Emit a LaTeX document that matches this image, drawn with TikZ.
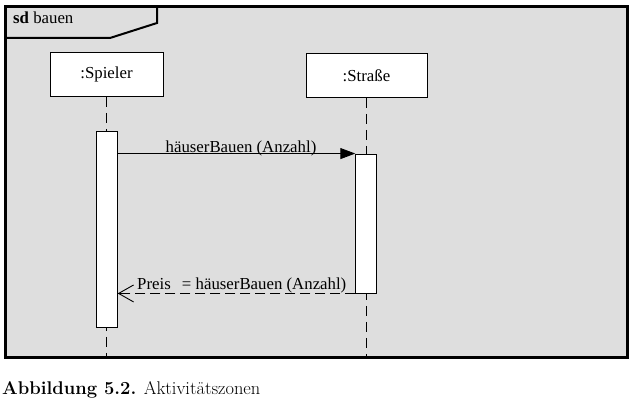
\documentclass[tikz,border=0pt]{standalone}
\usepackage{fontspec}
\setmainfont{Liberation Serif}
\newfontfamily\lmfont{Latin Modern Roman}
\usetikzlibrary{arrows.meta}
\definecolor{framebg}{RGB}{222,222,222}
\tikzset{
  objbox/.style={draw, line width=0.9pt, fill=white, minimum width=113pt, minimum height=44pt, inner sep=0pt, font=\fontsize{16.8}{18}\selectfont},
  actbox/.style={draw, line width=0.9pt, fill=white, minimum width=20.5pt, inner sep=0pt},
  lifeline/.style={line width=0.9pt, dash pattern=on 10pt off 6pt},
  callmsg/.style={line width=0.9pt, -{Triangle[length=15pt,width=11pt]}},
  retmsg/.style={line width=0.9pt, dash pattern=on 10pt off 5pt, -{Straight Barb[length=15pt,width=17pt,line width=0.9pt]}},
  lbl/.style={font=\fontsize{16.8}{18}\selectfont, inner sep=0pt},
}
\begin{document}
\begin{tikzpicture}[x=1pt,y=-1pt]
\useasboundingbox (0,0) rectangle (635,404);
% frame
\draw[line width=3pt, fill=framebg] (5.5,7) rectangle (627.5,357.5);
\draw[line width=2pt] (5.5,38) -- (110,38) -- (157,23) -- (157,7);
\node[lbl, anchor=base west] (title) at (13,24) {\textbf{sd} bauen};
% objects
\node[objbox] (sp) at (106.5,74.5) {:Spieler};
\node[objbox, minimum width=121pt] (st) at (366.5,75.5) {:Straße};
\coordinate (spend) at (106.5,359);
\coordinate (stend) at (366.5,359);
\draw[lifeline] (sp.south) -- (spend);
\draw[lifeline] (st.south) -- (stend);
% activations
\node[actbox, minimum height=196pt] (a1) at (107,229) {};
\node[actbox, minimum height=139pt] (a2) at (366,223.5) {};
% messages
\draw[callmsg] (a1.east |- a2.north west) -- (a2.north west);
\node[lbl, anchor=base] (m1) at (241,152) {häuserBauen (Anzahl)};
\draw[retmsg] (a2.south west) -- (a1.east |- a2.south west);
\node[lbl, anchor=base west] (m2) at (137,289) {Preis\hspace{7pt} = häuserBauen (Anzahl)};
% caption
\node[anchor=base west, inner sep=0pt, font=\lmfont\fontsize{18.4}{21}\selectfont] (cap) at (2,394) {\textbf{Abbildung 5.2.} Aktivitätszonen};
\end{tikzpicture}
\end{document}
